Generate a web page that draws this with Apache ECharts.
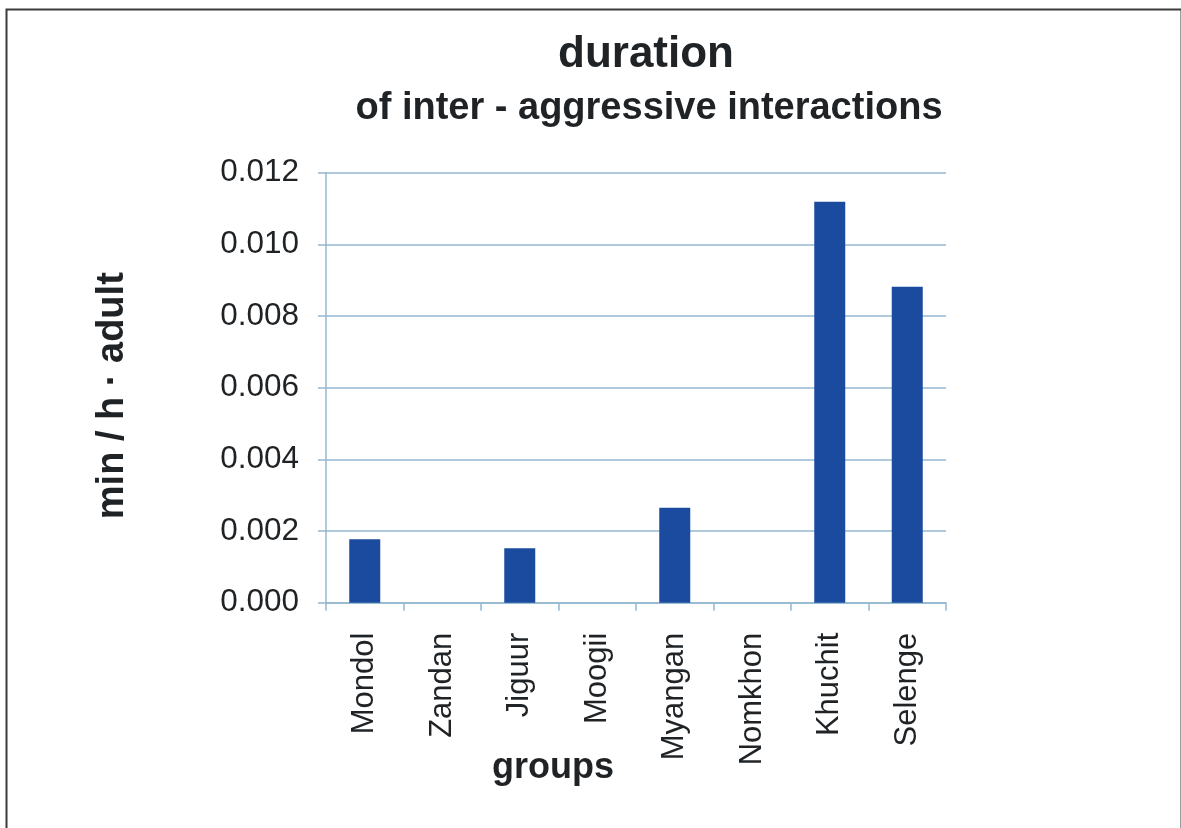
<!DOCTYPE html>
<html>
<head>
<meta charset="utf-8">
<script src="https://cdn.jsdelivr.net/npm/echarts@6/dist/echarts.min.js"></script>
<style>
html,body{margin:0;padding:0;background:#fff;}
#chart{width:1181px;height:828px;}
</style>
</head>
<body>
<div id="chart"></div>
<script>
var titleText = 'duration';
var subtitleText = 'of inter - aggressive interactions';
var yAxisName = 'min / h \u00b7 adult';
var xAxisName = 'groups';
var categories = ['Mondol', 'Zandan', 'Jiguur', 'Moogii', 'Myangan', 'Nomkhon', 'Khuchit', 'Selenge'];
var values = [0.00177, 0, 0.00152, 0, 0.00265, 0, 0.01119, 0.00882];
var yMin = 0, yMax = 0.012, yStep = 0.002;

var FONT = '"Liberation Sans", Arial, sans-serif';
var TXT = '#1f2326';
var GRIDC = '#93b8d0';

var chart = echarts.init(document.getElementById('chart'));
chart.setOption({
  backgroundColor: '#fff',
  animation: false,
  graphic: [{
    type: 'rect', left: 4, top: 7, silent: true,
    shape: { x: 0, y: 0, width: 1175, height: 840 },
    style: { fill: 'none', stroke: '#3a3a3a', lineWidth: 2 }
  }],
  title: [{
    text: titleText, left: 641, top: 28, textAlign: 'center',
    textStyle: { fontFamily: FONT, fontSize: 44, fontWeight: 'bold', color: TXT }
  }, {
    text: subtitleText, left: 644, top: 85, textAlign: 'center',
    textStyle: { fontFamily: FONT, fontSize: 38, fontWeight: 'bold', color: TXT }
  }],
  grid: { left: 326, right: 235, top: 172.7, bottom: 225.3, containLabel: false },
  xAxis: {
    type: 'category', data: categories,
    name: xAxisName, nameLocation: 'middle', nameGap: 147, nameMoveOverlap: false,
    nameTextStyle: { fontFamily: FONT, fontSize: 36, fontWeight: 'bold', color: TXT, padding: [0, 166, 0, 0] },
    axisLine: { show: true, lineStyle: { color: GRIDC, width: 1.5 } },
    axisTick: { show: true, length: 8, lineStyle: { color: GRIDC, width: 1.5 } },
    axisLabel: { rotate: 90, margin: 30, fontFamily: FONT, fontSize: 31, color: TXT, interval: 0 },
    splitLine: { show: false }
  },
  yAxis: {
    type: 'value', min: yMin, max: yMax, interval: yStep,
    name: yAxisName, nameLocation: 'middle', nameGap: 194, nameRotate: 90, nameMoveOverlap: false,
    nameTextStyle: { fontFamily: FONT, fontSize: 38, fontWeight: 'bold', color: TXT, padding: [0, 16, 0, 0] },
    axisLine: { show: true, lineStyle: { color: GRIDC, width: 1.5 } },
    axisTick: { show: true, length: 8, lineStyle: { color: GRIDC, width: 1.5 } },
    axisLabel: { margin: 27, fontFamily: FONT, fontSize: 31.5, color: TXT,
      formatter: function (v) { return v.toFixed(3); } },
    splitLine: { show: true, lineStyle: { color: GRIDC, width: 1.5 } }
  },
  series: [{
    type: 'bar', data: values, barWidth: '40%',
    itemStyle: { color: '#1b4b9e' }
  }]
});
</script>
</body>
</html>
